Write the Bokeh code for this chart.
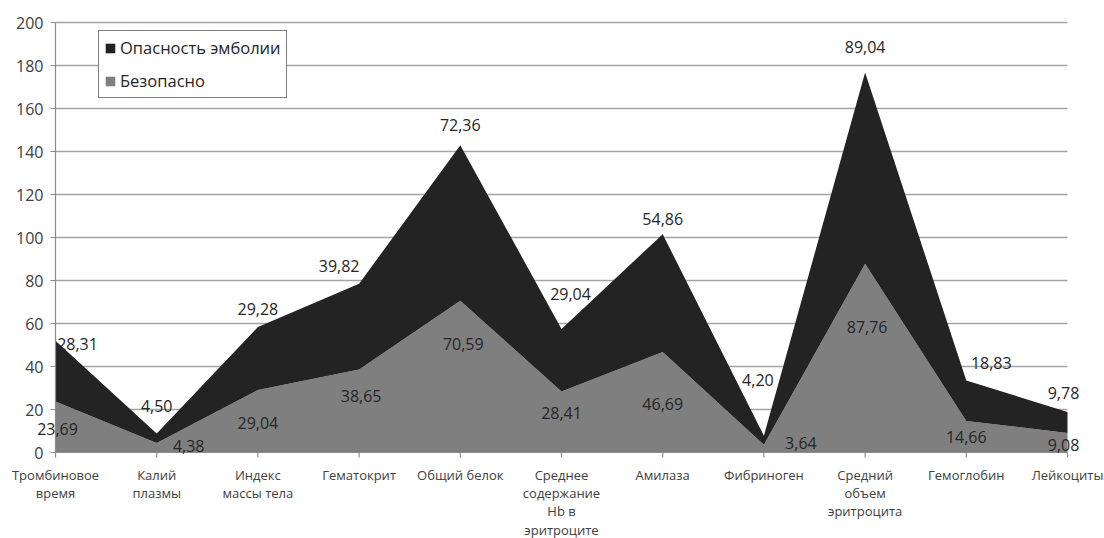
import math
from bokeh.plotting import figure
from bokeh.models import ColumnDataSource, Range1d, Legend, LegendItem
from bokeh.core.properties import value
from bokeh.embed import file_html
from bokeh.resources import INLINE

# ---- data ----
categories = ["Тромбиновое\nвремя", "Калий\nплазмы", "Индекс\nмассы тела",
              "Гематокрит", "Общий белок", "Среднее\nсодержание\nHb в\nэритроците",
              "Амилаза", "Фибриноген", "Средний\nобъем\nэритроцита",
              "Гемоглобин", "Лейкоциты"]
safe = [23.69, 4.38, 29.04, 38.65, 70.59, 28.41, 46.69, 3.64, 87.76, 14.66, 9.08]
danger = [28.31, 4.50, 29.28, 39.82, 72.36, 29.04, 54.86, 4.20, 89.04, 18.83, 9.78]
y_ticks = [0, 20, 40, 60, 80, 100, 120, 140, 160, 180, 200]
series_names = ["Опасность эмболии", "Безопасно"]

# label offsets in screen pixels (dx right, dy down), relative to each point
danger_dx = [22, 0, 0, -20, 0, 9, 0, -6, 0, 25, -4]
danger_dy = [3, -27, -18, -18, -20, -35, -15, -56, -25, -17, -19]
safe_dx = [2, 32, 0, 2, 3, 0, 0, 37, 2, 0, -4]
safe_dy = [27, 3, 33, 27, 43, 22, 52, -2, 63, 16, 12]

xs = list(range(len(categories)))
total = [s + d for s, d in zip(safe, danger)]


def fmt(v):
    return f"{v:.2f}".replace(".", ",")


FONT = "Open Sans"
AXIS_COL = "#8c8c8c"
W, H = 1104, 538
# frame covers the whole canvas; axes are drawn by hand so nothing is clipped
PX_PER_CAT = 101.2
X0_PX = 55.0
PX_PER_UNIT = 2.15
Y0_PX = 452.0

p = figure(width=W, height=H,
           x_range=Range1d(-X0_PX / PX_PER_CAT, xs[-1] + (W - X0_PX - xs[-1] * PX_PER_CAT) / PX_PER_CAT),
           y_range=Range1d(-(H - Y0_PX) / PX_PER_UNIT, Y0_PX / PX_PER_UNIT),
           output_backend="svg", toolbar_location=None,
           min_border=0, min_border_left=0, min_border_right=0,
           min_border_top=0, min_border_bottom=0)
p.axis.visible = False
p.grid.visible = False
p.outline_line_color = None
p.background_fill_color = "white"
p.border_fill_color = "white"

# gridlines
grid_src = ColumnDataSource(dict(x0=[xs[0]] * (len(y_ticks) - 1),
                                 x1=[xs[-1]] * (len(y_ticks) - 1),
                                 y=y_ticks[1:]))
p.segment(x0="x0", x1="x1", y0="y", y1="y", source=grid_src,
          line_color="#a3a3a3", line_width=1.4)

# stacked areas
src = ColumnDataSource(dict(x=xs, safe=safe, danger=danger))
r_safe, r_danger = p.varea_stack(stackers=["safe", "danger"], x="x", source=src,
                                 color=["#7f7f7f", "#232323"])

# axes lines and ticks
p.segment(x0=[xs[0], xs[0]], y0=[y_ticks[0], y_ticks[0]],
          x1=[xs[0], xs[-1]], y1=[y_ticks[-1], y_ticks[0]],
          line_color=AXIS_COL, line_width=1.2)
p.ray(x=[xs[0]] * len(y_ticks), y=y_ticks, length=5, length_units="screen",
      angle=math.pi, line_color=AXIS_COL, line_width=1.2)
p.ray(x=xs, y=[y_ticks[0]] * len(xs), length=5, length_units="screen",
      angle=-math.pi / 2, line_color=AXIS_COL, line_width=1.2)

# y tick labels
p.text(x=[xs[0]] * len(y_ticks), y=y_ticks, text=[str(t) for t in y_ticks],
       x_offset=-12, text_align="right", text_baseline="middle",
       text_font=value(FONT), text_font_size="16px", text_color="#404040")

# category labels
p.text(x=xs, y=[y_ticks[0]] * len(xs), text=categories, y_offset=13,
       text_align="center", text_baseline="top", text_line_height=1.02,
       text_font=value(FONT), text_font_size="13px", text_color="#404040")

# data labels
lab_danger = ColumnDataSource(dict(x=xs, y=total, text=[fmt(v) for v in danger],
                                   dx=danger_dx, dy=danger_dy))
lab_safe = ColumnDataSource(dict(x=xs, y=safe, text=[fmt(v) for v in safe],
                                 dx=safe_dx, dy=safe_dy))
for s in (lab_danger, lab_safe):
    p.text(x="x", y="y", text="text", x_offset="dx", y_offset="dy", source=s,
           text_align="center", text_baseline="middle",
           text_font=value(FONT), text_font_size="16px", text_color="#262626")

legend = Legend(items=[LegendItem(label=series_names[0], renderers=[r_danger]),
                       LegendItem(label=series_names[1], renderers=[r_safe])],
                location=(98, 440))
legend.border_line_color = "black"
legend.border_line_width = 1
legend.background_fill_color = "white"
legend.background_fill_alpha = 1
legend.label_text_font = FONT
legend.label_text_font_size = "16.5px"
legend.label_text_color = "#262626"
legend.glyph_width = 12
legend.glyph_height = 12
legend.label_height = 20
legend.spacing = 10
legend.padding = 5
legend.margin = 0
legend.label_standoff = 4
p.add_layout(legend)

open("out.html", "w").write(file_html(p, INLINE))
